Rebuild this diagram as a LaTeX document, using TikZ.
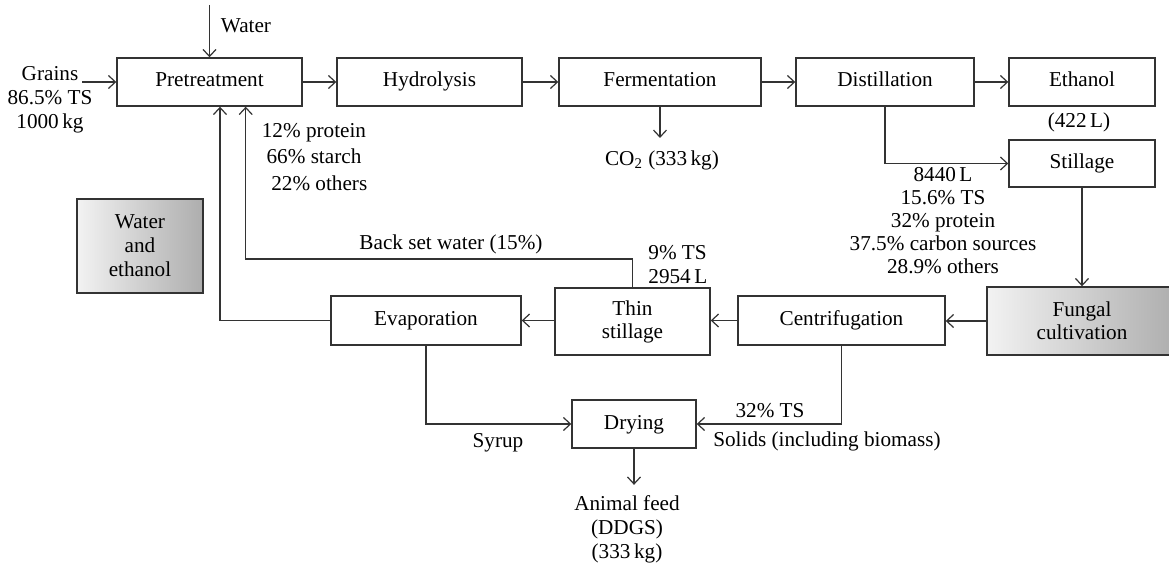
\documentclass[tikz,border=0pt]{standalone}
\usepackage{fontspec}
\setmainfont{Liberation Serif}
\usetikzlibrary{arrows.meta}

\begin{document}
\begin{tikzpicture}[x=0.5pt, y=-0.5pt,
    font=\fontsize{10.6}{11.5}\selectfont,
    box/.style={draw=black!80, line width=0.7pt, align=center, minimum height=24pt, inner sep=0pt},
    block/.style={box, text height=7.3pt, text depth=2.3pt},
    grayblock/.style={box, left color=black!5, right color=black!32},
    lbl/.style={align=center, inner sep=0pt},
    flow/.style={draw=black!80, line width=0.6pt, -{Straight Barb[length=3.5pt,width=6.5pt]}}
  ]
    \useasboundingbox (0,0) rectangle (1169,567);
    \node[block, minimum width=92.5pt] (pre) at (209.5,82) {Pretreatment};
    \node[block, minimum width=92.5pt] (hyd) at (429.5,82) {Hydrolysis};
    \node[block, minimum width=101pt] (fer) at (660,82) {Fermentation};
    \node[block, minimum width=89pt] (dis) at (885,82) {Distillation};
    \node[block, minimum width=73pt] (eth) at (1082,82) {Ethanol};
    \node[block, minimum width=73pt, minimum height=23.5pt] (sti) at (1082,163.5) {Stillage};
    \node[grayblock, minimum width=95pt, minimum height=34pt] (fun) at (1082,321) {Fungal\\cultivation};
    \node[block, minimum width=103.5pt, minimum height=24.5pt] (cen) at (841.5,320.5) {Centrifugation};
    \node[box, minimum width=77.5pt, minimum height=33.5pt] (thin) at (632.5,321.5) {Thin\\stillage};
    \node[block, minimum width=95pt, minimum height=24.5pt] (eva) at (426,320.5) {Evaporation};
    \node[block, minimum width=62pt] (dry) at (634,424) {Drying};
    \node[grayblock, minimum width=63pt, minimum height=47pt] (wet) at (140,246) {Water\\[0.5pt]and\\[0.5pt]ethanol};

    \node[lbl] (water) at (246,26) {Water};
    \node[lbl] (grains) at (50,100) {Grains\\[0.5pt]86.5\% TS\\[0.5pt]1000\,kg};
    \node[lbl] (comp) at (314,157) {12\% protein\\[1.8pt]66\% starch\\[1.8pt]\ \ 22\% others};
    \node[lbl] (co2) at (662,160) {CO\textsubscript{2} (333\,kg)};
    \node[lbl] (vol) at (1079,122) {(422\,L)};
    \node[lbl] (stiinfo) at (943,221) {8440\,L\\15.6\% TS\\32\% protein\\37.5\% carbon sources\\28.9\% others};
    \node[lbl] (back) at (451,244) {Back set water (15\%)};
    \node[lbl, align=left, anchor=west] (thininfo) at (648,264.5) {9\% TS\\[0.5pt]2954\,L};
    \node[lbl] (ts) at (770,411) {32\% TS};
    \node[lbl] (solids) at (827,441) {Solids (including biomass)};
    \node[lbl] (syrup) at (498,443) {Syrup};
    \node[lbl] (feed) at (627,529) {Animal feed\\[0.5pt](DDGS)\\[0.5pt](333\,kg)};

    \coordinate (win) at (209.5,5);
    \coordinate (gin) at (82,82);
    \coordinate (bs) at (245.7,259);

    \draw[flow] (win) -- (pre.north);
    \draw[flow] (gin) -- (pre.west);
    \draw[flow] (pre) -- (hyd);
    \draw[flow] (hyd) -- (fer);
    \draw[flow] (fer) -- (dis);
    \draw[flow] (dis) -- (eth);
    \draw[flow, shorten >=6pt] (fer.south) -- (fer.south |- co2.north);
    \draw[flow] (dis.south) |- (sti.west);
    \draw[flow] (sti.south) -- (fun.north);
    \draw[flow] (fun.west) -- (fun.west -| cen.east);
    \draw[flow] (cen.west) -- (cen.west -| thin.east);
    \draw[flow] (thin.west |- eva.east) -- (eva.east);
    \draw[flow] (thin.north) |- (bs) -- (bs |- pre.south);
    \draw[flow] (eva.west) -| ([xshift=5.25pt]pre.south);
    \draw[flow] (eva.south) |- (dry.west);
    \draw[flow] (cen.south) |- (dry.east);
    \draw[flow, shorten >=5pt] (dry.south) -- (dry.south |- feed.north);
  \end{tikzpicture}
\end{document}
